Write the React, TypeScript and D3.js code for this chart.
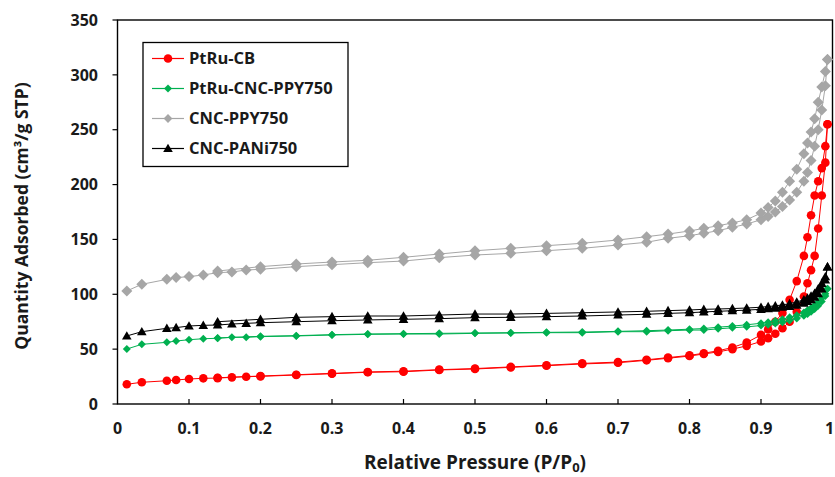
import React from 'react';
import * as d3 from 'd3';

// Relative pressure grids (adsorption up, desorption down)
const pAds = [0.013, 0.034, 0.069, 0.082, 0.10, 0.12, 0.14, 0.16, 0.18, 0.20, 0.25, 0.30, 0.35, 0.40, 0.45, 0.50, 0.55, 0.60, 0.65, 0.70, 0.74, 0.77, 0.80, 0.82, 0.84, 0.86, 0.88, 0.90, 0.91, 0.92, 0.93, 0.94, 0.95, 0.96, 0.965, 0.97, 0.975, 0.98, 0.985, 0.99, 0.993];
const pDes = [0.993, 0.99, 0.985, 0.98, 0.975, 0.97, 0.965, 0.96, 0.95, 0.94, 0.93, 0.92, 0.91, 0.90, 0.88, 0.86, 0.84, 0.82, 0.80, 0.77, 0.74, 0.70, 0.65, 0.60, 0.55, 0.50, 0.45, 0.40, 0.35, 0.30, 0.25, 0.20, 0.14];

// PtRu-CB
const cbAds = [18.0, 19.8, 21.2, 21.9, 22.8, 23.4, 23.6, 24.3, 24.9, 25.2, 26.4, 27.6, 28.9, 29.4, 31.0, 31.9, 33.4, 34.9, 36.5, 37.6, 39.8, 41.7, 43.7, 45.6, 47.5, 50, 53, 57, 60, 64, 69, 75, 84, 98, 110, 122, 135, 160, 190, 220, 255];
const cbDes = [255, 235, 215, 203, 190, 172, 152, 135, 112, 95, 83, 75, 68, 63, 56, 51.5, 48.5, 46.3, 44.3, 42.3, 40.3, 38.2, 37.0, 35.3, 33.8, 32.3, 31.3, 29.9, 29.2, 27.9, 26.7, 25.5, 23.9];

// PtRu-CNC-PPY750
const pcpAds = [50.1, 54.4, 56.2, 57.4, 58.6, 59.5, 59.9, 60.8, 60.8, 61.4, 62.0, 62.9, 63.5, 63.8, 63.8, 64.4, 64.7, 65.0, 65.0, 65.9, 65.9, 66.8, 67.4, 67.4, 68.5, 69.5, 70.3, 71.5, 72.3, 73.3, 74.5, 76.0, 78.0, 80.5, 82.0, 84.0, 86.5, 89.5, 93.5, 98.5, 105];
const pcpDes = [105, 100.5, 96.5, 93, 90, 87.5, 85.5, 83.5, 81, 79, 77.2, 75.8, 74.6, 73.6, 72.2, 71, 70, 68.8, 68.2, 67.4, 66.8, 66.2, 65.6, 65.3, 65.0, 64.7, 64.4, 64.1, 63.8, 63.2, 62.3, 61.7, 60.2];

// CNC-PPY750
const cpAds = [103, 109.1, 113.6, 115.2, 116.1, 117.6, 119.7, 120.3, 122.1, 122.8, 125.2, 127, 128.8, 130.3, 133.4, 135.8, 137.3, 139.7, 141.9, 144.9, 147.4, 151, 153.4, 155.6, 158, 161, 164, 168, 171, 175, 180, 186, 193, 203, 211, 222, 235, 250, 268, 290, 314];
const cpDes = [314, 303, 289, 275, 260, 248, 238, 228, 214, 203, 193, 185, 179, 174, 168, 165, 162.5, 160.1, 157.7, 154.9, 152.5, 149.5, 146.5, 144.3, 141.9, 139.7, 136.7, 133.7, 131, 129.4, 127.6, 125.2, 121.2];

// CNC-PANi750
const cpaAds = [62.0, 65.9, 69.0, 69.6, 71.1, 71.7, 72.0, 72.9, 73.5, 74.1, 75.0, 75.9, 76.6, 77.2, 77.8, 78.7, 79.0, 79.6, 80.2, 81.1, 81.8, 82.6, 83.2, 83.9, 84.5, 85.0, 85.6, 86.3, 86.8, 87.4, 88.2, 89.0, 90.2, 92.0, 93.5, 95.2, 97.5, 100.5, 105, 113, 125];
const cpaDes = [125, 116, 110, 105, 101, 98.5, 96.5, 95, 93, 91.5, 90.3, 89.5, 88.8, 88.2, 87.5, 87.0, 86.6, 86.3, 85.7, 85.1, 84.5, 83.9, 83.2, 82.6, 82.0, 82.0, 81.1, 80.2, 80.2, 79.6, 79.0, 77.2, 75.0];

const seriesNames = ['PtRu-CB', 'PtRu-CNC-PPY750', 'CNC-PPY750', 'CNC-PANi750'];
const xTicks = [0, 0.1, 0.2, 0.3, 0.4, 0.5, 0.6, 0.7, 0.8, 0.9, 1];
const yTicks = [0, 50, 100, 150, 200, 250, 300, 350];

const FONT = "'Open Sans', 'Liberation Sans', sans-serif";

type Style = { line: string; fill: string; shape: string; size: number };
const styles: Style[] = [
  { line: '#FF0000', fill: '#FF0000', shape: 'circle', size: 4.3 },
  { line: '#00B050', fill: '#00B050', shape: 'diamond', size: 4.0 },
  { line: '#A6A6A6', fill: '#A6A6A6', shape: 'diamond', size: 5.5 },
  { line: '#000000', fill: '#000000', shape: 'triangle', size: 4.8 },
];

function markerPath(shape: string, s: number): string {
  if (shape === 'circle') return d3.symbol(d3.symbolCircle, Math.PI * s * s)() as string;
  if (shape === 'diamond') return `M0,${-s}L${s},0L0,${s}L${-s},0Z`;
  return `M0,${-s}L${s * 1.0},${s * 0.75}L${-s * 1.0},${s * 0.75}Z`;
}

export default function App() {
  const W = 835, H = 477;
  const x = d3.scaleLinear().domain([0, 1]).range([117.5, 832.5]);
  const y = d3.scaleLinear().domain([0, 350]).range([404, 20]);
  const line = d3.line<[number, number]>().x(d => x(d[0])).y(d => y(d[1]));

  const data = [
    [cbAds, cbDes],
    [pcpAds, pcpDes],
    [cpAds, cpDes],
    [cpaAds, cpaDes],
  ];

  const legendX = 143, legendY = 42.5;
  return (
    <svg width={W} height={H} style={{ position: 'absolute', left: 0, top: 0, background: '#fff' }}>
      <rect x={0} y={0} width={W} height={H} fill="#fff" />
      {/* plot border */}
      <rect x={x(0)} y={y(350)} width={x(1) - x(0)} height={y(0) - y(350)} fill="none" stroke="#000" strokeWidth={1.4} />
      {/* y ticks */}
      {yTicks.map(t => (
        <g key={'y' + t}>
          <line x1={x(0) - 5} x2={x(0)} y1={y(t)} y2={y(t)} stroke="#000" strokeWidth={1.2} />
          <text x={98} y={y(t)} dy="0.36em" textAnchor="end" fontFamily={FONT} fontWeight="bold" fontSize={16} fill="#1a1a1a">{t}</text>
        </g>
      ))}
      {/* x ticks */}
      {xTicks.map(t => (
        <g key={'x' + t}>
          {t > 0 && t < 1 && <line x1={x(t)} x2={x(t)} y1={y(0)} y2={y(0) - 5} stroke="#000" strokeWidth={1.2} />}
          <text x={t === 1 ? x(t) - 3 : x(t)} y={434} textAnchor="middle" fontFamily={FONT} fontWeight="bold" fontSize={16} fill="#1a1a1a">{t}</text>
        </g>
      ))}
      {/* series */}
      {data.map((pair, i) => {
        const st = styles[i];
        const ads: [number, number][] = pAds.map((p, k) => [p, pair[0][k]]);
        const des: [number, number][] = pDes.map((p, k) => [p, pair[1][k]]);
        const mp = markerPath(st.shape, st.size);
        return (
          <g key={'s' + i}>
            <path d={line(ads) as string} fill="none" stroke={st.line} strokeWidth={1} />
            <path d={line(des) as string} fill="none" stroke={st.line} strokeWidth={1} />
            {ads.concat(des).map((d, k) => (
              <path key={k} d={mp} transform={`translate(${x(d[0])},${y(d[1])})`} fill={st.fill} />
            ))}
          </g>
        );
      })}
      {/* legend */}
      <rect x={legendX} y={legendY} width={205} height={124} fill="#fff" stroke="#000" strokeWidth={1.3} />
      {seriesNames.map((n, i) => {
        const st = styles[i];
        const cy = 58.5 + i * 30;
        return (
          <g key={'l' + i}>
            <line x1={152} x2={184} y1={cy} y2={cy} stroke={st.line} strokeWidth={1.2} />
            <path d={markerPath(st.shape, st.size * (i === 2 ? 0.8 : 1))} transform={`translate(168,${cy})`} fill={st.fill} />
            <text x={189} y={cy} dy="0.36em" fontFamily={FONT} fontWeight="bold" fontSize={16.5} fill="#1a1a1a">{n}</text>
          </g>
        );
      })}
      {/* axis titles */}
      <text transform="translate(28,216) rotate(-90)" textAnchor="middle" fontFamily={FONT} fontWeight="bold" fontSize={17.5} fill="#1a1a1a">Quantity Adsorbed (cm³/g STP)</text>
      <text x={475} y={469} textAnchor="middle" fontFamily={FONT} fontWeight="bold" fontSize={19} fill="#1a1a1a">
        Relative Pressure (P/P<tspan fontSize={13} dy={3}>0</tspan><tspan dy={-3}>)</tspan>
      </text>
    </svg>
  );
}
